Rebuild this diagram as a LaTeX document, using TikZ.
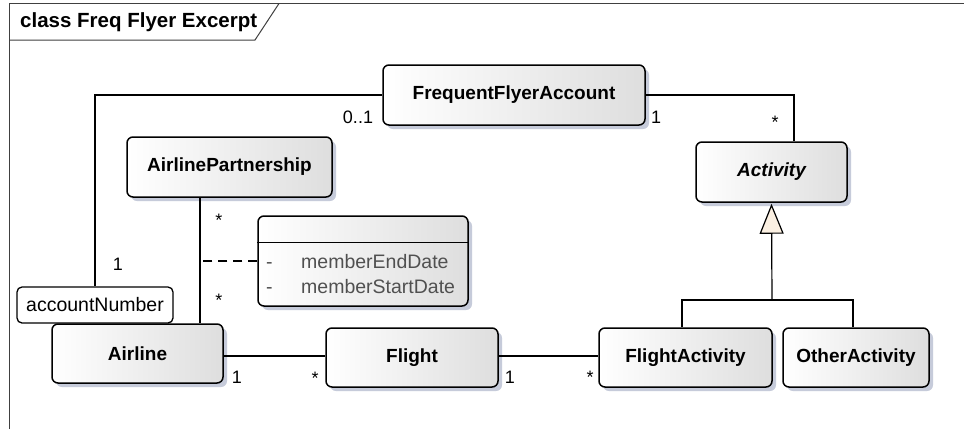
\documentclass[tikz,border=0pt]{standalone}
\usepackage{fontspec}
\setmainfont{Liberation Sans}
\usetikzlibrary{shadows,arrows.meta,calc}
\definecolor{shadowc}{HTML}{C6CBDA}
\definecolor{boxr}{HTML}{DEDEDE}
\definecolor{tri}{HTML}{FBF0E2}
\definecolor{framec}{HTML}{404040}
\definecolor{attrc}{HTML}{505050}
\begin{document}
\begin{tikzpicture}[x=1pt,y=-1pt,
  cls/.style={draw=black, line width=1.5pt, rounded corners=6pt,
    left color=white, right color=boxr, inner sep=0pt,
    font=\fontsize{19}{22}\selectfont\bfseries,
    drop shadow={shadow xshift=4pt, shadow yshift=-4pt, fill=shadowc, opacity=1}},
  qual/.style={draw=black, line width=1.3pt, rounded corners=5pt, fill=white,
    inner sep=0pt, font=\fontsize{19.5}{22}\selectfont},
  conn/.style={draw=black, line width=1.2pt},
  lbl/.style={anchor=base, inner sep=0pt, font=\fontsize{18}{20}\selectfont},
  attr/.style={anchor=base west, inner sep=0pt, text=attrc, font=\fontsize{19.5}{22}\selectfont},
]
\useasboundingbox (0,0) rectangle (964,429);
\fill[white] (0,0) rectangle (964,429);

% frame
\draw[framec, line width=1pt] (9.5,429) -- (9.5,3.5) -- (964,3.5);
\draw[framec, line width=1pt] (9.5,40) -- (255,40) -- (279,3.5);
\node[anchor=base west, inner sep=0pt, font=\fontsize{20.5}{24}\selectfont\bfseries] (title) at (20,27) {class Freq Flyer Excerpt};

% classes
\node[cls, minimum width=262pt, minimum height=60pt] (ffa) at (514,95) {FrequentFlyerAccount};
\node[cls, minimum width=205pt, minimum height=60pt] (ap) at (229.5,167) {AirlinePartnership};
\node[cls, minimum width=151pt, minimum height=60pt] (act) at (771.5,172) {\itshape Activity};
\node[cls, minimum width=171pt, minimum height=59pt] (airline) at (137.5,353.5) {Airline};
\node[cls, minimum width=172pt, minimum height=59pt] (flight) at (412,357.5) {Flight};
\node[cls, minimum width=173pt, minimum height=59pt] (fa) at (685.5,357.5) {FlightActivity};
\node[cls, minimum width=146pt, minimum height=59pt] (oa) at (856,357.5) {OtherActivity};
\node[qual, minimum width=156pt, minimum height=36pt] (acct) at (95,305) {accountNumber};

% association class
\node[cls, minimum width=210pt, minimum height=90pt] (assoc) at (363,261) {};
\draw[line width=1.3pt] ([yshift=-27pt]assoc.north west) -- ([yshift=-27pt]assoc.north east);
\node[attr] (d1) at (266,268) {-};
\node[attr] (a1) at (301,268) {memberEndDate};
\node[attr] (d2) at (266,293) {-};
\node[attr] (a2) at (301,293) {memberStartDate};

% connectors
\draw[conn] (ffa.west) -| (acct.north);
\draw[conn] (ffa.east) -| ([xshift=22.5pt]act.north);
\coordinate (lk) at ([xshift=62.5pt]airline.north);
\draw[conn] ([xshift=-29.5pt]ap.south) -- (lk);
\draw[conn, dash pattern=on 9pt off 6pt] (assoc.west) -- (assoc.west -| lk);
\draw[conn] (flight.west |- 0,356) -- (airline.east |- 0,356);
\draw[conn] (flight.east |- 0,356) -- (fa.west |- 0,356);
\coordinate (gj) at (772,300);
\draw[conn] ([xshift=-3.5pt]fa.north) |- (gj) -| ([xshift=-3pt]oa.north);
\draw[conn, -{Triangle[length=30pt, width=24pt, fill=tri, line width=1.2pt]}] (gj) -- ([yshift=-1pt]act.south);

% multiplicities
\node[lbl] (m1) at (358,123) {0..1};
\node[lbl] (m2) at (118,270) {1};
\node[lbl] (m3) at (656,123) {1};
\node[lbl] (m4) at (775,128) {*};
\node[lbl] (m5) at (219,226) {*};
\node[lbl] (m6) at (219,306) {*};
\node[lbl] (m7) at (237,383) {1};
\node[lbl] (m8) at (315,384) {*};
\node[lbl] (m9) at (510,383) {1};
\node[lbl] (m10) at (590,383) {*};
\end{tikzpicture}
\end{document}
